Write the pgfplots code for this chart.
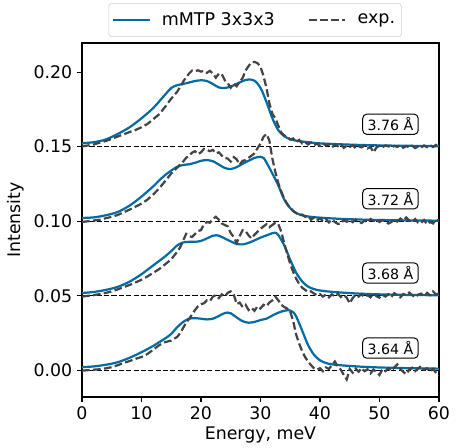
\documentclass[border=0pt]{standalone}
\usepackage{pgfplots}
\pgfplotsset{compat=1.18}
\usepackage{fontspec}
\setmainfont{DejaVu Sans}
\definecolor{cblue}{HTML}{006BA4}
\definecolor{cgray}{HTML}{444444}
\newcommand{\legfont}{\fontsize{12.6}{15}\selectfont}
\begin{document}
\begin{tikzpicture}
\useasboundingbox (-59.04pt,-36.72pt) rectangle (269.28pt,285.84pt);
\begin{axis}[
  scale only axis, width=257pt, height=254.9pt,
  xmin=0, xmax=60, ymin=-0.0178, ymax=0.2195,
  xtick={0,10,...,60}, ytick={0,0.05,0.10,0.15,0.20},
  yticklabel style={/pgf/number format/.cd, fixed, fixed zerofill, precision=2},
  /pgf/number format/assume math mode=true,
  tick align=outside, tick pos=left, major tick length=3.5pt,
  tick style={black, line width=0.8pt},
  axis line style={line width=0.8pt},
  ticklabel style={font=\fontsize{12.5}{14}\selectfont},
  label style={font=\fontsize{12.5}{14}\selectfont},
  xlabel={Energy, meV}, ylabel={Intensity},
  xlabel style={yshift=2pt}, ylabel style={yshift=0pt},
  legend columns=2,
  legend style={at={(0.485,1.017)}, anchor=south, draw=black!20, rounded corners=2pt,
    font=\legfont, inner xsep=2.5pt, inner ysep=4pt,
    nodes={font=\legfont, inner xsep=2pt, inner ysep=2.5pt},
    /tikz/every odd column/.append style={column sep=6pt},
    /tikz/every even column/.append style={column sep=22pt}},
  legend image code/.code={\draw[#1] (0pt,0pt) -- (26pt,0pt);},
]
% baselines
\addplot[black, line width=0.75pt, dash pattern=on 3.7pt off 1.6pt, forget plot] coordinates {(0,0.15) (60,0.15)};
\addplot[black, line width=0.75pt, dash pattern=on 3.7pt off 1.6pt, forget plot] coordinates {(0,0.10) (60,0.10)};
\addplot[black, line width=0.75pt, dash pattern=on 3.7pt off 1.6pt, forget plot] coordinates {(0,0.05) (60,0.05)};
\addplot[black, line width=0.75pt, dash pattern=on 3.7pt off 1.6pt, forget plot] coordinates {(0,0.00) (60,0.00)};
% theory 3.76
\addplot[cblue, line width=1.6pt, smooth] table {
0 0.1523
2 0.1530
4 0.1548
6 0.1585
8 0.1630
10 0.1690
12 0.1760
14 0.1850
15 0.1893
16 0.1912
17 0.1920
18 0.1930
19 0.1940
20 0.1945
21 0.1940
22 0.1920
23 0.1897
24 0.1893
25 0.1903
26 0.1920
27 0.1940
28 0.1950
29 0.1942
30 0.1895
31 0.1800
32 0.1690
33 0.1610
34 0.1570
35 0.1550
36 0.1540
38 0.1530
40 0.1522
44 0.1515
48 0.1510
52 0.1507
56 0.1505
60 0.1503
};
\addlegendentry{\legfont mMTP 3x3x3}
% exp 3.76
\addplot[cgray, line width=1.6pt, dash pattern=on 5.55pt off 2.4pt] table {
0 0.1502
1 0.1508
2 0.1515
3 0.1527
4 0.1538
5 0.1552
6 0.1568
7 0.1583
8 0.1598
9 0.1612
10 0.1630
11 0.1652
12 0.1685
13 0.1718
14 0.1768
15 0.1822
16 0.1868
16.5 0.1900
17 0.1935
17.5 0.1965
18 0.1990
18.5 0.2010
19 0.2005
19.5 0.2012
20 0.2003
20.5 0.2008
21 0.1995
21.5 0.2008
22 0.1990
22.5 0.1962
23 0.1990
23.5 0.1985
24 0.1945
24.5 0.1925
25 0.1895
25.5 0.1925
26 0.1905
26.5 0.1935
27 0.1960
27.5 0.2010
28 0.2040
28.5 0.2065
29 0.2068
29.5 0.2060
30 0.2035
30.5 0.1975
31 0.1895
31.5 0.1790
32 0.1720
32.5 0.1690
33 0.1640
33.5 0.1595
34 0.1575
34.5 0.1565
35 0.1548
35.5 0.1555
36 0.1530
36.5 0.1545
37 0.1522
37.5 0.1530
38 0.1515
38.5 0.1528
39 0.1510
39.5 0.1520
40 0.1505
40.5 0.1522
41 0.1508
41.5 0.1515
42 0.1495
42.5 0.1512
43 0.1503
43.5 0.1518
44 0.1492
44.5 0.1506
45 0.1498
45.5 0.1510
46 0.1490
46.5 0.1502
47 0.1495
47.5 0.1508
48 0.1488
48.5 0.1497
49 0.1462
49.5 0.1495
50 0.1506
50.5 0.1496
51 0.1508
51.5 0.1502
52 0.1494
52.5 0.1505
53 0.1498
53.5 0.1510
54 0.1492
54.5 0.1504
55 0.1496
55.5 0.1506
56 0.1490
56.5 0.1502
57 0.1494
57.5 0.1508
58 0.1497
58.5 0.1510
59 0.1498
59.5 0.1512
60 0.1506
};
\addlegendentry{\legfont exp.}
% theory 3.72
\addplot[cblue, line width=1.6pt, smooth, forget plot] table {
0 0.1022
2 0.1026
4 0.1040
6 0.1062
8 0.1105
10 0.1165
12 0.1235
13 0.1275
14 0.1310
15 0.1340
16 0.1365
17 0.1377
18 0.1382
19 0.1392
20 0.1405
21 0.1410
22 0.1402
23 0.1380
24 0.1357
25 0.1350
26 0.1363
27 0.1385
28 0.1405
29 0.1425
30 0.1432
30.5 0.1425
31 0.1395
32 0.1320
33 0.1240
34 0.1145
35 0.1088
36 0.1055
37 0.1040
38 0.1032
40 0.1024
44 0.1015
48 0.1010
52 0.1007
56 0.1005
60 0.1004
};
% exp 3.72
\addplot[cgray, line width=1.6pt, dash pattern=on 5.55pt off 2.4pt, forget plot] table {
0 0.0995
1 0.1000
2 0.1005
3 0.1010
4 0.1020
5 0.1030
6 0.1042
7 0.1060
8 0.1078
9 0.1098
10 0.1118
11 0.1145
12 0.1180
13 0.1222
14 0.1270
15 0.1320
16 0.1360
16.5 0.1380
17 0.1400
17.5 0.1425
18 0.1440
18.5 0.1460
19 0.1470
19.5 0.1450
20 0.1462
20.5 0.1485
21 0.1478
21.5 0.1470
22 0.1478
22.5 0.1455
23 0.1462
23.5 0.1440
24 0.1425
24.5 0.1420
25 0.1400
25.5 0.1430
26 0.1415
26.5 0.1380
27 0.1405
27.5 0.1410
28 0.1425
28.5 0.1440
29 0.1455
29.5 0.1490
30 0.1520
30.5 0.1565
31 0.1585
31.5 0.1540
32 0.1420
32.5 0.1330
33 0.1255
33.5 0.1200
34 0.1150
34.5 0.1115
35 0.1090
35.5 0.1068
36 0.1055
36.5 0.1040
37 0.1045
37.5 0.1030
38 0.1038
38.5 0.1010
39 0.1025
39.5 0.1005
40 0.1020
40.5 0.1000
41 0.1015
41.5 0.0992
42 0.1012
42.5 0.0995
43 0.0982
43.5 0.0985
44 0.1008
44.5 0.0997
45 0.1010
45.5 0.0994
46 0.1012
46.5 0.0998
47 0.0988
47.5 0.1005
48 0.0992
48.5 0.1015
49 0.1002
49.5 0.1010
50 0.0995
50.5 0.1008
51 0.0997
51.5 0.0985
52 0.0995
52.5 0.1010
53 0.0998
53.5 0.1018
54 0.1005
54.5 0.1025
55 0.1005
55.5 0.0995
56 0.1015
56.5 0.0990
57 0.0988
57.5 0.1008
58 0.0980
58.5 0.0995
59 0.0985
59.5 0.1012
60 0.1005
};
% theory 3.68
\addplot[cblue, line width=1.6pt, smooth, forget plot] table {
0 0.0519
2 0.0526
4 0.0540
6 0.0560
8 0.0595
10 0.0645
12 0.0705
13 0.0735
14 0.0765
15 0.0800
16 0.0838
17 0.0858
18 0.0862
19 0.0862
20 0.0868
21 0.0885
22 0.0903
22.6 0.0906
23 0.0903
24 0.0885
25 0.0865
26 0.0848
27 0.0845
28 0.0855
29 0.0872
30 0.0890
31 0.0905
32 0.0920
32.6 0.0922
33 0.0908
34 0.0838
35 0.0742
36 0.0655
37 0.0597
38 0.0562
39 0.0545
40 0.0536
42 0.0527
46 0.0516
50 0.0510
55 0.0506
60 0.0504
};
% exp 3.68
\addplot[cgray, line width=1.6pt, dash pattern=on 5.55pt off 2.4pt, forget plot] table {
0 0.0495
1 0.0500
2 0.0505
3 0.0512
4 0.0520
5 0.0530
6 0.0543
7 0.0558
8 0.0573
9 0.0590
10 0.0608
11 0.0630
12 0.0655
13 0.0680
14 0.0712
15 0.0745
15.5 0.0770
16 0.0795
16.5 0.0825
17 0.0870
17.5 0.0915
18 0.0900
18.5 0.0895
19 0.0915
19.5 0.0935
20 0.0940
20.5 0.0980
21 0.0995
21.5 0.0990
22 0.1015
22.5 0.1030
23 0.1010
23.5 0.0985
24 0.0975
24.5 0.0965
25 0.0920
25.5 0.0895
26 0.0855
26.5 0.0900
27 0.0940
27.5 0.0935
28 0.0905
28.5 0.0885
29 0.0910
29.5 0.0930
30 0.0950
30.5 0.0965
31 0.0980
31.5 0.0960
32 0.0975
32.5 0.0990
33 0.0980
33.5 0.0930
34 0.0850
34.5 0.0780
35 0.0715
35.5 0.0660
36 0.0615
36.5 0.0580
37 0.0555
37.5 0.0540
38 0.0525
38.5 0.0530
39 0.0515
39.5 0.0505
40 0.0512
40.5 0.0495
41 0.0508
41.5 0.0490
42 0.0510
42.5 0.0497
43 0.0515
43.5 0.0492
44 0.0505
44.5 0.0488
45 0.0450
45.5 0.0485
46 0.0508
46.5 0.0495
47 0.0512
47.5 0.0492
48 0.0505
48.5 0.0490
49 0.0515
49.5 0.0497
50 0.0488
50.5 0.0508
51 0.0495
51.5 0.0510
52 0.0492
52.5 0.0518
53 0.0502
53.5 0.0490
54 0.0512
54.5 0.0505
55 0.0522
55.5 0.0505
56 0.0490
56.5 0.0508
57 0.0515
57.5 0.0495
58 0.0520
58.5 0.0505
59 0.0530
59.5 0.0510
60 0.0515
};
% theory 3.64
\addplot[cblue, line width=1.6pt, smooth, forget plot] table {
0 0.0022
2 0.0027
4 0.0038
6 0.0055
8 0.0085
10 0.0122
12 0.0165
13 0.0190
14 0.0215
15 0.0245
16 0.0290
17 0.0325
18 0.0347
19 0.0350
20 0.0347
21 0.0342
22 0.0347
23 0.0365
24 0.0385
24.5 0.0388
25 0.0383
26 0.0355
27 0.0330
28 0.0320
29 0.0325
30 0.0338
31 0.0347
32 0.0368
33 0.0387
34 0.0400
34.8 0.0403
35.5 0.0390
36 0.0362
37 0.0268
38 0.0170
39 0.0105
40 0.0068
41 0.0050
42 0.0041
44 0.0033
47 0.0025
50 0.0020
55 0.0015
60 0.0012
};
% exp 3.64
\addplot[cgray, line width=1.6pt, dash pattern=on 5.55pt off 2.4pt, forget plot] table {
0 -0.0002
1 0.0002
2 0.0005
3 0.0008
4 0.0014
5 0.0022
6 0.0035
7 0.0050
8 0.0063
9 0.0078
10 0.0090
11 0.0110
12 0.0140
13 0.0170
14 0.0190
15 0.0200
16 0.0225
16.5 0.0250
17 0.0285
17.5 0.0320
18 0.0345
18.5 0.0375
19 0.0405
19.5 0.0430
20 0.0445
20.5 0.0450
21 0.0470
21.5 0.0465
22 0.0495
22.5 0.0505
23 0.0485
23.5 0.0510
24 0.0495
24.5 0.0520
25 0.0530
25.5 0.0510
26 0.0445
26.5 0.0455
27 0.0425
27.5 0.0440
28 0.0405
28.5 0.0420
29 0.0400
29.5 0.0430
30 0.0415
30.5 0.0440
31 0.0430
31.5 0.0455
32 0.0470
32.5 0.0495
33 0.0470
33.5 0.0440
34 0.0425
34.5 0.0415
35 0.0395
35.5 0.0330
36 0.0240
36.5 0.0180
37 0.0130
37.5 0.0090
38 0.0060
38.5 0.0035
39 0.0015
39.5 0.0005
40 0.0015
40.5 -0.0005
41 0.0020
41.5 0.0010
42 0.0035
42.5 0.0060
43 0.0025
43.5 0.0005
44 -0.0030
44.5 -0.0060
45 0.0010
45.5 -0.0015
46 0.0012
46.5 -0.0008
47 0.0015
47.5 -0.0005
48 0.0008
48.5 -0.0020
49 0.0005
49.5 -0.0010
50 -0.0030
50.5 0.0008
51 -0.0005
51.5 0.0015
52 -0.0002
52.5 0.0020
53 0.0040
53.5 0.0010
54 -0.0010
54.5 -0.0025
55 0.0005
55.5 0.0018
56 -0.0005
56.5 0.0012
57 0.0030
57.5 0.0005
58 0.0015
58.5 -0.0008
59 0.0010
59.5 -0.0015
60 -0.0035
};
% labels
\tikzset{lab/.style={draw=black, fill=white, rounded corners=3pt, line width=0.7pt, inner xsep=3.5pt, inner ysep=2.5pt, font=\fontsize{10.2}{12}\selectfont}}
\node[lab] at (axis cs:51.85,0.1650) {3.76 Å};
\node[lab] at (axis cs:51.85,0.1151) {3.72 Å};
\node[lab] at (axis cs:51.85,0.0653) {3.68 Å};
\node[lab] at (axis cs:51.85,0.0150) {3.64 Å};
\end{axis}
\end{tikzpicture}
\end{document}
